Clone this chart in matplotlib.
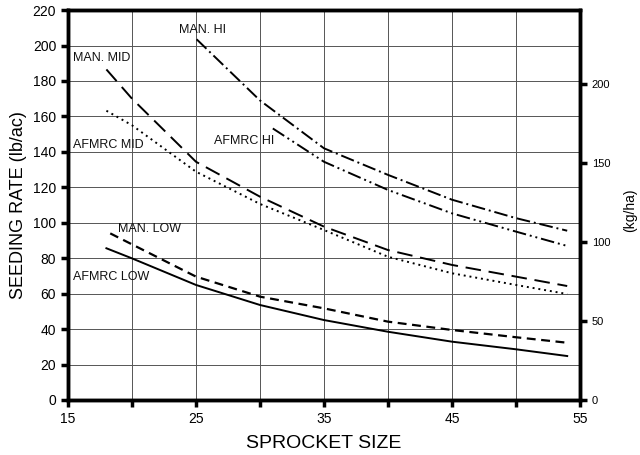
import numpy as np
import matplotlib
matplotlib.use('Agg')
import matplotlib.pyplot as plt

plt.rcParams['font.family'] = ['Liberation Sans', 'DejaVu Sans']

# sprocket size vs seeding rate (lb/ac)
man_hi_x = [25.05, 30, 35, 40, 45, 50, 54]
man_hi_y = [203.5, 169, 142, 127, 113, 102.6, 95.5]

afmrc_hi_x = [31, 35, 40, 45, 50, 54]
afmrc_hi_y = [153.2, 134.4, 118.5, 105.3, 95, 86.9]

man_mid_x = [18, 20, 25, 30, 35, 40, 45, 50, 54]
man_mid_y = [186.5, 170, 134.4, 114.7, 97.8, 84.6, 76.2, 69.6, 64.3]

afmrc_mid_x = [18, 20, 25, 30, 35, 40, 45, 50, 54]
afmrc_mid_y = [163.2, 155, 128.8, 110.6, 95.9, 80.8, 71.5, 64.9, 59.8]

man_low_x = [18.3, 20, 25, 30, 35, 40, 45, 50, 54]
man_low_y = [94, 87.8, 69.6, 58.3, 51.7, 44.2, 39.5, 35.4, 32.3]

afmrc_low_x = [18, 20, 25, 30, 35, 40, 45, 50, 54]
afmrc_low_y = [85.6, 79.9, 64.9, 53.6, 45.1, 38.5, 32.9, 28.6, 24.8]

KG_PER_LB = 1.12085

fig = plt.figure(figsize=(6.4, 4.55), dpi=100)
ax = fig.add_axes([0.10625, 0.1209, 0.8, 0.857])

ax.plot(man_hi_x, man_hi_y, color='black', lw=1.4, dashes=(7, 2, 1, 2))
ax.plot(afmrc_hi_x, afmrc_hi_y, color='black', lw=1.4, dashes=(7, 2, 1, 2, 1, 2))
ax.plot(man_mid_x, man_mid_y, color='black', lw=1.4, dashes=(8, 4))
ax.plot(afmrc_mid_x, afmrc_mid_y, color='black', lw=1.4, dashes=(1, 2))
ax.plot(man_low_x, man_low_y, color='black', lw=1.6, dashes=(4, 2.5))
ax.plot(afmrc_low_x, afmrc_low_y, color='black', lw=1.4)

lab = dict(fontsize=9, color='#111111', va='center')
ax.text(25.5, 208.7, 'MAN. HI', ha='center', **lab)
ax.text(15.4, 193, 'MAN. MID', ha='left', **lab)
ax.text(15.4, 143.8, 'AFMRC MID', ha='left', **lab)
ax.text(26.4, 146, 'AFMRC HI', ha='left', **lab)
ax.text(18.9, 96.5, 'MAN. LOW', ha='left', **lab)
ax.text(15.4, 69.4, 'AFMRC LOW', ha='left', **lab)

ax.set_xlim(15, 55)
ax.set_ylim(0, 220)
ax.set_xticks(np.arange(15, 56, 5))
ax.set_xticklabels(['15', '', '25', '', '35', '', '45', '', '55'])
ax.set_yticks(np.arange(0, 221, 20))
ax.grid(True, color='#555555', lw=0.7)
ax.set_axisbelow(True)

for s in ax.spines.values():
    s.set_linewidth(2.5)
ax.tick_params(axis='both', direction='out', width=2.5, length=5, labelsize=10)
ax.tick_params(axis='x', pad=4)

ax.set_xlabel('SPROCKET SIZE', fontsize=14, labelpad=6)
ax.set_ylabel('SEEDING RATE (lb/ac)', fontsize=13, labelpad=4)

ax2 = ax.twinx()
ax2.set_ylim(0, 220 * KG_PER_LB)
ax2.set_yticks([0, 50, 100, 150, 200])
ax2.tick_params(axis='y', direction='out', width=2.5, length=5, labelsize=8)
for s in ax2.spines.values():
    s.set_linewidth(2.5)

# right-hand unit label, placed in figure coords so it stays inside the canvas
fig.text(630 / 640, 1 - 210 / 455, '(kg/ha)', rotation=90, fontsize=10,
         ha='center', va='center')

plt.savefig('out.png', dpi=100)
